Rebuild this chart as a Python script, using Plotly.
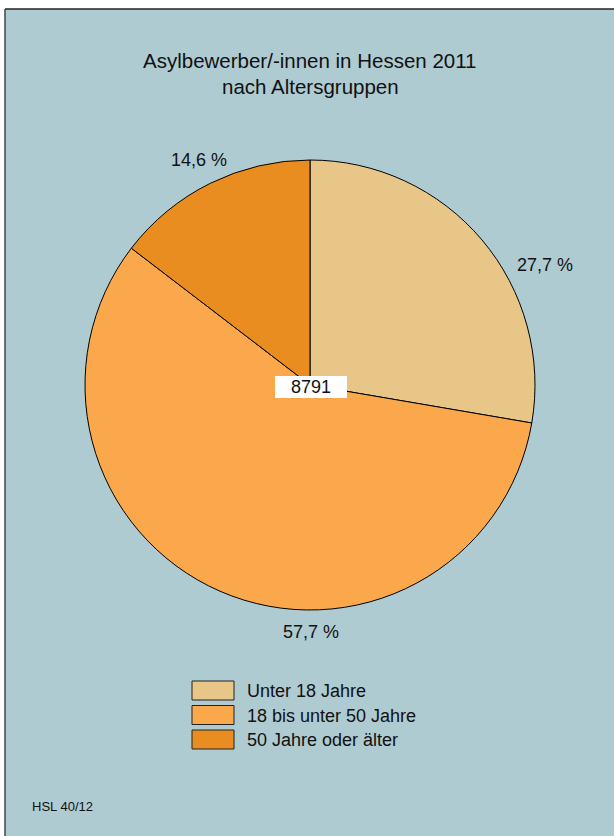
import math
import plotly.graph_objects as go

# ---- data ----
categories = ["Unter 18 Jahre", "18 bis unter 50 Jahre", "50 Jahre oder älter"]
shares = [27.7, 57.7, 14.6]
total = 8791
colors = ["#E8C687", "#FAA84B", "#E98D20"]
title_lines = ["Asylbewerber/-innen in Hessen 2011", "nach Altersgruppen"]
source = "HSL 40/12"

W, H = 614, 836
BG = "#AFCBD2"
FONT = "Liberation Sans, Arial, Helvetica, sans-serif"

def px(x):
    return x / W

def py(y):
    return 1 - y / H

# pie geometry (pixels)
cx, cy, r = 310, 385, 225

fig = go.Figure()
fig.add_trace(go.Pie(
    labels=categories,
    values=shares,
    sort=False,
    direction="clockwise",
    rotation=0,
    textinfo="none",
    hoverinfo="label+percent",
    marker=dict(colors=colors, line=dict(color="#000000", width=1)),
    domain=dict(x=[px(cx - r), px(cx + r)], y=[py(cy + r), py(cy - r)]),
    showlegend=False,
))

shapes = [
    dict(type="rect", xref="paper", yref="paper", x0=px(5), x1=1.01, y0=-0.01, y1=py(9),
         fillcolor=BG, line=dict(width=0), layer="below"),
    dict(type="line", xref="paper", yref="paper", x0=px(5), x1=1.01, y0=py(9), y1=py(9),
         line=dict(color="#222222", width=1.5)),
    dict(type="line", xref="paper", yref="paper", x0=px(5), x1=px(5), y0=-0.01, y1=py(9),
         line=dict(color="#444444", width=1.5)),
]

annotations = []
for i, t in enumerate(title_lines):
    annotations.append(dict(text=t, x=px(310), y=py(60 + 26 * i), xref="paper", yref="paper",
                            showarrow=False, font=dict(family=FONT, size=20.5, color="#111111"),
                            xanchor="center", yanchor="middle"))

label_pos = [(545, 265), (311, 632), (199, 160)]
for s, (lx, ly) in zip(shares, label_pos):
    annotations.append(dict(text=f"{s:.1f} %".replace(".", ","), x=px(lx), y=py(ly),
                            xref="paper", yref="paper", showarrow=False,
                            font=dict(family=FONT, size=18, color="#111111"),
                            xanchor="center", yanchor="middle"))

annotations.append(dict(text=f"{total}", x=px(311), y=py(387), xref="paper", yref="paper",
                        showarrow=False, font=dict(family=FONT, size=18, color="#111111"),
                        xanchor="center", yanchor="middle"))
shapes.append(dict(type="rect", xref="paper", yref="paper", x0=px(275), x1=px(347),
                   y0=py(398), y1=py(376), fillcolor="#FFFFFF", line=dict(width=0)))

for i, (c, name) in enumerate(zip(colors, categories)):
    top = 681 + 24.5 * i
    shapes.append(dict(type="rect", xref="paper", yref="paper", x0=px(192), x1=px(234),
                       y0=py(top + 19), y1=py(top), fillcolor=c,
                       line=dict(color="#222222", width=1)))
    annotations.append(dict(text=name, x=px(245), y=py(top + 10), xref="paper", yref="paper",
                            showarrow=False, font=dict(family=FONT, size=18, color="#111111"),
                            xanchor="left", yanchor="middle"))

annotations.append(dict(text=source, x=px(30), y=py(806), xref="paper", yref="paper",
                        showarrow=False, font=dict(family=FONT, size=13, color="#111111"),
                        xanchor="left", yanchor="middle"))

fig.update_layout(
    width=W, height=H,
    margin=dict(l=0, r=0, t=0, b=0),
    paper_bgcolor="#FFFFFF",
    plot_bgcolor="#FFFFFF",
    shapes=shapes,
    annotations=annotations,
)

fig.write_html("out.html",
               config={"displayModeBar": False},
               post_script="document.body.style.margin='0';document.body.style.overflow='hidden';")
